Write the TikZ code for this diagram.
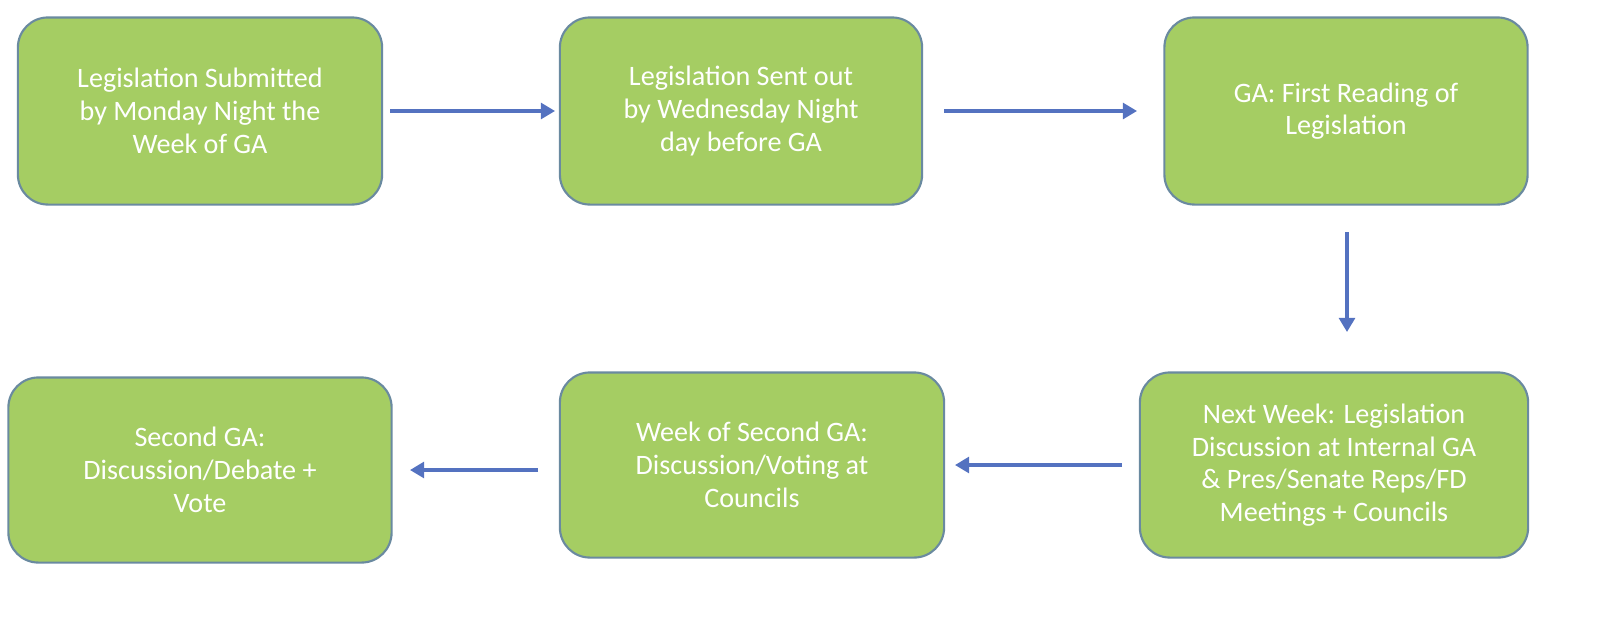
\documentclass[tikz,border=0pt]{standalone}
\usepackage{fontspec}
\setmainfont{Carlito}
\usetikzlibrary{arrows.meta}
\definecolor{boxfill}{HTML}{A5CD63}
\definecolor{boxline}{HTML}{6A8AA0}
\definecolor{arr}{HTML}{5472C0}
\begin{document}
\begin{tikzpicture}[x=0.01cm,y=-0.01cm,
 box/.style={draw=boxline,line width=0.6pt,fill=boxfill,rounded corners=0.3cm,
   text=white,align=center,font=\fontsize{8pt}{9.3pt}\selectfont},
 arrow/.style={draw=arr,line width=0.9pt,-{Triangle[length=4pt,width=4.5pt]}}]
\useasboundingbox (0,0) rectangle (1600,624);
\node[box,minimum width=3.64cm,minimum height=1.87cm] (a) at (200,111) {Legislation Submitted\\by Monday Night the\\Week of GA};
\node[box,minimum width=3.62cm,minimum height=1.87cm] (b) at (741,111) {Legislation Sent out\\by Wednesday Night\\day before GA};
\node[box,minimum width=3.63cm,minimum height=1.87cm] (c) at (1346,111) {GA: First Reading of\\Legislation};
\node[box,minimum width=3.88cm,minimum height=1.85cm] (d) at (1334,465) {Next Week: Legislation\\Discussion at Internal GA\\\& Pres/Senate Reps/FD\\Meetings + Councils};
\node[box,minimum width=3.84cm,minimum height=1.85cm] (e) at (752,465) {Week of Second GA:\\Discussion/Voting at\\Councils};
\node[box,minimum width=3.83cm,minimum height=1.85cm] (f) at (200,470) {Second GA:\\Discussion/Debate +\\Vote};
\coordinate (a1) at (390,111); \coordinate (b1) at (555,111);
\coordinate (b2) at (944,111); \coordinate (c1) at (1137,111);
\coordinate (c2) at (1347,232); \coordinate (d1) at (1347,332);
\coordinate (d2) at (1122,465); \coordinate (e1) at (955,465);
\coordinate (e2) at (538,470); \coordinate (f1) at (410,470);
\draw[arrow] (a1) -- (b1);
\draw[arrow] (b2) -- (c1);
\draw[arrow] (c2) -- (d1);
\draw[arrow] (d2) -- (e1);
\draw[arrow] (e2) -- (f1);
\end{tikzpicture}
\end{document}
